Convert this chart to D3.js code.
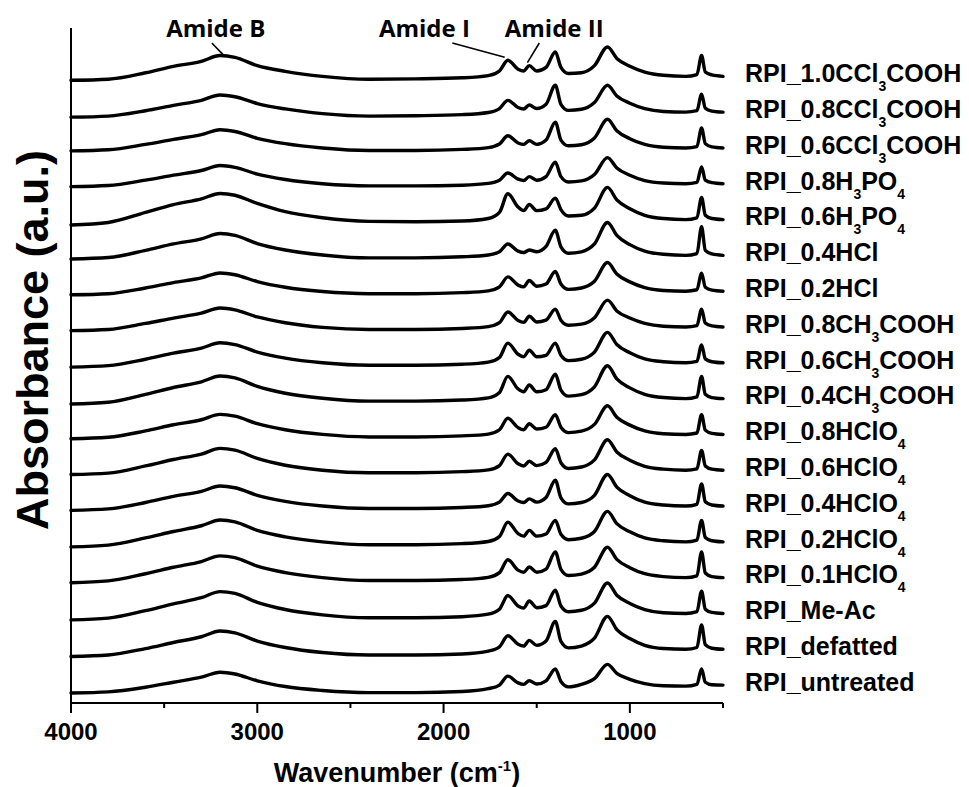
<!DOCTYPE html>
<html>
<head>
<meta charset="utf-8">
<script src="https://cdn.jsdelivr.net/npm/d3@7"></script>
<style>
  body { margin: 0; background: #fff; }
  svg { display: block; }
  text { font-family: "Liberation Sans", Arial, sans-serif; font-weight: bold; fill: #000; }
</style>
</head>
<body>
<div id="chart"></div>
<script>
// wavenumber grid (cm-1) shared by every spectrum
var wavenumbers = [4000, 3800, 3600, 3450, 3300, 3200, 3120, 3000, 2850, 2650, 2400, 2150, 1900, 1760, 1700, 1655, 1600, 1570, 1540, 1500, 1450, 1400, 1370, 1330, 1260, 1190, 1120, 1070, 1000, 920, 820, 700, 640, 615, 595, 560, 500];

// absorbance, relative to each trace's right end (a.u.)
var untreated    = [-0.22, -0.19, -0.06, 0.08, 0.22, 0.36, 0.31, 0.12, -0.04, -0.15, -0.21, -0.21, -0.18, -0.10, 0.00, 0.25, 0.06, 0.02, 0.12, 0.03, 0.12, 0.45, 0.10, -0.05, 0.02, 0.18, 0.58, 0.33, 0.16, 0.04, -0.02, -0.03, 0.02, 0.45, 0.08, 0.01, 0.00];
var defatted     = [-0.20, -0.16, 0.02, 0.19, 0.35, 0.51, 0.46, 0.23, 0.05, -0.09, -0.16, -0.16, -0.13, -0.05, 0.07, 0.38, 0.14, 0.09, 0.25, 0.11, 0.23, 0.78, 0.22, 0.04, 0.09, 0.31, 0.92, 0.55, 0.30, 0.11, 0.02, 0.00, 0.05, 0.68, 0.13, 0.03, 0.00];
var meAc         = [-0.18, -0.13, 0.08, 0.27, 0.44, 0.61, 0.56, 0.31, 0.11, -0.04, -0.12, -0.12, -0.09, -0.02, 0.12, 0.50, 0.21, 0.15, 0.35, 0.16, 0.22, 0.65, 0.21, 0.05, 0.09, 0.29, 0.85, 0.51, 0.28, 0.11, 0.02, 0.00, 0.05, 0.62, 0.12, 0.03, 0.00];
var hclo4_01     = [-0.14, -0.09, 0.11, 0.29, 0.45, 0.61, 0.56, 0.32, 0.14, 0.00, -0.08, -0.08, -0.05, 0.01, 0.14, 0.50, 0.21, 0.15, 0.30, 0.15, 0.24, 0.72, 0.23, 0.06, 0.10, 0.29, 0.85, 0.51, 0.28, 0.11, 0.03, 0.00, 0.05, 0.72, 0.13, 0.03, 0.00];
var hclo4_02     = [-0.14, -0.09, 0.11, 0.29, 0.45, 0.61, 0.56, 0.32, 0.14, 0.00, -0.08, -0.08, -0.05, 0.01, 0.15, 0.55, 0.23, 0.16, 0.32, 0.16, 0.22, 0.60, 0.21, 0.06, 0.10, 0.29, 0.85, 0.51, 0.28, 0.11, 0.03, 0.00, 0.05, 0.60, 0.12, 0.03, 0.00];
var hclo4_04     = [-0.12, -0.08, 0.10, 0.27, 0.41, 0.56, 0.51, 0.30, 0.13, 0.00, -0.07, -0.07, -0.04, 0.01, 0.11, 0.35, 0.14, 0.10, 0.20, 0.11, 0.24, 0.72, 0.23, 0.06, 0.10, 0.30, 0.88, 0.53, 0.29, 0.11, 0.03, 0.00, 0.05, 0.62, 0.12, 0.03, 0.00];
var hclo4_06     = [-0.12, -0.08, 0.12, 0.30, 0.45, 0.61, 0.56, 0.33, 0.14, 0.00, -0.07, -0.07, -0.04, 0.01, 0.13, 0.45, 0.18, 0.12, 0.25, 0.13, 0.22, 0.60, 0.21, 0.05, 0.09, 0.29, 0.85, 0.51, 0.28, 0.11, 0.03, 0.00, 0.04, 0.55, 0.12, 0.03, 0.00];
var hclo4_08     = [-0.12, -0.08, 0.10, 0.27, 0.41, 0.56, 0.51, 0.30, 0.13, 0.00, -0.07, -0.07, -0.04, 0.01, 0.13, 0.45, 0.19, 0.13, 0.30, 0.15, 0.20, 0.55, 0.20, 0.05, 0.09, 0.28, 0.80, 0.48, 0.26, 0.10, 0.02, 0.00, 0.04, 0.55, 0.12, 0.03, 0.00];
var acetic_04    = [-0.15, -0.10, 0.12, 0.31, 0.47, 0.63, 0.58, 0.34, 0.15, 0.01, -0.07, -0.07, -0.04, 0.02, 0.17, 0.62, 0.27, 0.19, 0.38, 0.19, 0.25, 0.68, 0.24, 0.07, 0.11, 0.33, 0.92, 0.55, 0.30, 0.12, 0.03, 0.00, 0.05, 0.62, 0.12, 0.03, 0.00];
var acetic_06    = [-0.12, -0.08, 0.10, 0.27, 0.41, 0.56, 0.51, 0.30, 0.13, 0.00, -0.07, -0.07, -0.04, 0.02, 0.15, 0.55, 0.24, 0.17, 0.35, 0.17, 0.21, 0.55, 0.21, 0.06, 0.10, 0.30, 0.85, 0.51, 0.28, 0.11, 0.03, 0.00, 0.04, 0.50, 0.11, 0.03, 0.00];
var acetic_08    = [-0.10, -0.07, 0.10, 0.25, 0.39, 0.53, 0.48, 0.28, 0.12, -0.01, -0.07, -0.07, -0.04, 0.01, 0.12, 0.42, 0.18, 0.13, 0.30, 0.14, 0.19, 0.50, 0.19, 0.05, 0.08, 0.26, 0.75, 0.45, 0.25, 0.10, 0.02, 0.00, 0.04, 0.50, 0.11, 0.03, 0.00];
var hcl_02       = [-0.10, -0.07, 0.09, 0.24, 0.37, 0.51, 0.46, 0.27, 0.11, -0.01, -0.07, -0.07, -0.04, 0.01, 0.12, 0.40, 0.17, 0.12, 0.30, 0.14, 0.20, 0.55, 0.20, 0.05, 0.09, 0.28, 0.80, 0.48, 0.26, 0.10, 0.02, 0.00, 0.04, 0.50, 0.11, 0.03, 0.00];
var hcl_04       = [-0.10, -0.06, 0.14, 0.32, 0.46, 0.61, 0.56, 0.33, 0.15, 0.01, -0.07, -0.07, -0.04, 0.01, 0.10, 0.32, 0.12, 0.08, 0.15, 0.10, 0.25, 0.70, 0.24, 0.06, 0.10, 0.32, 0.92, 0.56, 0.30, 0.12, 0.03, 0.00, 0.05, 0.80, 0.14, 0.04, 0.00];
var h3po4_06     = [-0.15, -0.08, 0.20, 0.42, 0.58, 0.73, 0.68, 0.45, 0.22, 0.05, -0.05, -0.06, -0.04, 0.03, 0.20, 0.72, 0.35, 0.25, 0.42, 0.25, 0.30, 0.60, 0.28, 0.10, 0.12, 0.32, 0.90, 0.55, 0.30, 0.12, 0.03, 0.00, 0.05, 0.62, 0.12, 0.03, 0.00];
var h3po4_08     = [-0.08, -0.05, 0.10, 0.24, 0.37, 0.51, 0.46, 0.27, 0.12, 0.00, -0.06, -0.06, -0.04, 0.01, 0.10, 0.30, 0.13, 0.09, 0.20, 0.10, 0.20, 0.60, 0.20, 0.05, 0.08, 0.26, 0.73, 0.44, 0.24, 0.09, 0.02, 0.00, 0.04, 0.47, 0.10, 0.03, 0.00];
var tca_06       = [-0.08, -0.05, 0.10, 0.24, 0.37, 0.51, 0.46, 0.27, 0.12, 0.00, -0.07, -0.07, -0.04, 0.01, 0.11, 0.34, 0.14, 0.10, 0.20, 0.10, 0.22, 0.72, 0.22, 0.06, 0.09, 0.28, 0.80, 0.48, 0.26, 0.10, 0.02, 0.00, 0.04, 0.56, 0.12, 0.03, 0.00];
var tca_08       = [-0.14, -0.11, 0.04, 0.19, 0.33, 0.48, 0.43, 0.24, 0.09, -0.04, -0.11, -0.10, -0.07, -0.01, 0.10, 0.33, 0.13, 0.09, 0.20, 0.10, 0.22, 0.75, 0.22, 0.05, 0.08, 0.27, 0.75, 0.45, 0.25, 0.10, 0.02, 0.00, 0.04, 0.50, 0.11, 0.03, 0.00];
var tca_10       = [-0.11, -0.08, 0.10, 0.28, 0.42, 0.58, 0.53, 0.30, 0.14, 0.00, -0.08, -0.07, -0.04, 0.02, 0.15, 0.45, 0.20, 0.15, 0.30, 0.15, 0.25, 0.68, 0.25, 0.08, 0.10, 0.30, 0.82, 0.50, 0.28, 0.12, 0.03, 0.00, 0.05, 0.58, 0.12, 0.04, 0.00];

// bottom to top; "~3~" marks a subscript
var sampleNames = ["RPI_untreated", "RPI_defatted", "RPI_Me-Ac", "RPI_0.1HClO~4~", "RPI_0.2HClO~4~", "RPI_0.4HClO~4~",
    "RPI_0.6HClO~4~", "RPI_0.8HClO~4~", "RPI_0.4CH~3~COOH", "RPI_0.6CH~3~COOH", "RPI_0.8CH~3~COOH", "RPI_0.2HCl",
    "RPI_0.4HCl", "RPI_0.6H~3~PO~4~", "RPI_0.8H~3~PO~4~", "RPI_0.6CCl~3~COOH", "RPI_0.8CCl~3~COOH", "RPI_1.0CCl~3~COOH"];
var sampleSpectra = [untreated, defatted, meAc, hclo4_01, hclo4_02, hclo4_04, hclo4_06, hclo4_08, acetic_04, acetic_06,
    acetic_08, hcl_02, hcl_04, h3po4_06, h3po4_08, tca_06, tca_08, tca_10];

var majorTicks = [4000, 3000, 2000, 1000];
var minorTicks = [3500, 2500, 1500, 500];

// band annotations on the top trace
var bandNames = ["Amide B", "Amide I", "Amide II"];
var bandTextWn = [3223, 2103, 1406];
var bandLineFromWn = [3244, 1953, 1486];
var bandLineToWn = [3185, 1672, 1550];

draw_spectra();

function draw_spectra() {
    var chart_width = 969, chart_height = 787;
    var margin = { top: 28, right: 246, bottom: 84, left: 71 };
    var width = chart_width - margin.left - margin.right;
    var height = chart_height - margin.top - margin.bottom;

    var svg = d3.select("#chart")
        .append("svg")
        .attr("width", chart_width)
        .attr("height", chart_height);

    var plot = svg.append("g")
        .attr("transform", "translate(" + margin.left + "," + margin.top + ")");

    var x = d3.scaleLinear().domain([4000, 500]).range([0, width]);
    var y = d3.scaleLinear().domain([-0.5, 18.35]).range([height, 0]);

    // stacked traces
    var line = d3.line()
        .x(function (d) { return x(d[0]); })
        .y(function (d) { return y(d[1]); })
        .curve(d3.curveMonotoneX);

    sampleSpectra.forEach(function (vals, i) {
        var pts = wavenumbers.map(function (w, k) { return [w, vals[k] + i]; });
        plot.append("path")
            .datum(pts)
            .attr("d", line)
            .attr("fill", "none")
            .attr("stroke", "#000")
            .attr("stroke-width", 3.4)
            .attr("stroke-linejoin", "round")
            .attr("stroke-linecap", "round");
    });

    // sample labels at the right
    sampleNames.forEach(function (name, i) {
        var t = plot.append("text")
            .attr("x", width + 22)
            .attr("y", y(i) - 3)
            .attr("dy", "0.35em")
            .style("font-size", "25px");
        name.split("~").forEach(function (part, k) {
            if (part === "") return;
            if (k % 2 === 1) {
                t.append("tspan").attr("dy", 9).style("font-size", "14px").text(part);
            } else {
                t.append("tspan").attr("dy", k > 0 ? -9 : null).text(part);
            }
        });
    });

    // axes
    plot.append("line")
        .attr("x1", 0).attr("x2", 0).attr("y1", 0).attr("y2", height)
        .attr("stroke", "#000").attr("stroke-width", 2);

    var xAxis = plot.append("g")
        .attr("transform", "translate(0," + height + ")");
    xAxis.append("line")
        .attr("x1", 0).attr("x2", width)
        .attr("stroke", "#000").attr("stroke-width", 2);
    xAxis.selectAll(".major").data(majorTicks).enter().append("line")
        .attr("x1", function (d) { return x(d); }).attr("x2", function (d) { return x(d); })
        .attr("y1", 0).attr("y2", 10)
        .attr("stroke", "#000").attr("stroke-width", 2);
    xAxis.selectAll(".minor").data(minorTicks).enter().append("line")
        .attr("x1", function (d) { return x(d); }).attr("x2", function (d) { return x(d); })
        .attr("y1", 0).attr("y2", 5)
        .attr("stroke", "#000").attr("stroke-width", 2);
    xAxis.selectAll(".lbl").data(majorTicks).enter().append("text")
        .attr("x", function (d) { return x(d); })
        .attr("y", 37)
        .attr("text-anchor", "middle")
        .style("font-size", "24px")
        .text(function (d) { return d; });

    // axis titles
    var xt = svg.append("text")
        .attr("x", margin.left + width / 2)
        .attr("y", 782)
        .attr("text-anchor", "middle")
        .style("font-size", "27px");
    xt.append("tspan").text("Wavenumber (cm");
    xt.append("tspan").attr("dy", -11).style("font-size", "15px").text("-1");
    xt.append("tspan").attr("dy", 11).text(")");

    svg.append("text")
        .attr("transform", "translate(48," + 340 + ") rotate(-90)")
        .attr("text-anchor", "middle")
        .style("font-size", "45px")
        .text("Absorbance (a.u.)");

    // band annotations
    var top = sampleSpectra.length - 1;
    bandNames.forEach(function (name, k) {
        plot.append("text")
            .attr("x", x(bandTextWn[k]))
            .attr("y", 9)
            .attr("text-anchor", "middle")
            .style("font-family", "'Open Sans', sans-serif")
            .style("font-size", "24px")
            .text(name);
        var idx = d3.bisector(function (w) { return -w; }).left(wavenumbers, -bandLineToWn[k]);
        var v = sampleSpectra[top][Math.min(idx, wavenumbers.length - 1)] + top;
        plot.append("line")
            .attr("x1", x(bandLineFromWn[k])).attr("y1", 15)
            .attr("x2", x(bandLineToWn[k])).attr("y2", y(v) - 3)
            .attr("stroke", "#000").attr("stroke-width", 1.6);
    });
}
</script>
</body>
</html>
